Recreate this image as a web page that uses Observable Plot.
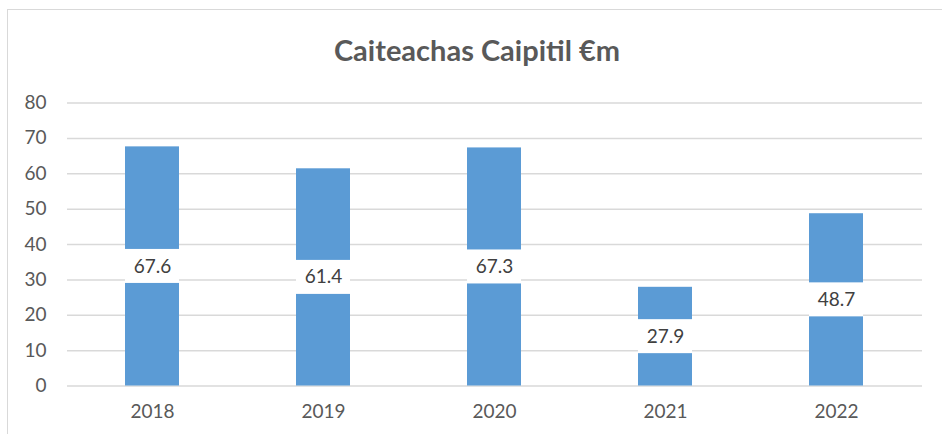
<!DOCTYPE html>
<html>
<head>
<meta charset="utf-8">
<script src="https://cdn.jsdelivr.net/npm/d3@7"></script>
<script src="https://cdn.jsdelivr.net/npm/@observablehq/plot@0.6"></script>
<style>
  html, body { margin: 0; padding: 0; background: #fff; overflow: hidden; }
  #wrap { position: relative; width: 942px; height: 434px; font-family: Lato, "Open Sans", sans-serif; }
  #frame { position: absolute; left: 7px; top: 9px; width: 960px; height: 460px; border: 1.5px solid #d9d9d9; box-sizing: border-box; }
  #title { position: absolute; left: 0; top: 0; width: 942px; height: 80px; text-align: center; line-height: 100px; font-size: 29px; font-weight: bold; color: #595959; padding-left: 12px; box-sizing: border-box; }
  #chart { position: absolute; left: 0; top: 80px; }
</style>
</head>
<body>
<div id="wrap">
  <div id="frame"></div>
  <div id="title">Caiteachas Caipitil €m</div>
  <div id="chart"></div>
</div>
<script>
const years = ["2018", "2019", "2020", "2021", "2022"];
const values = [67.6, 61.4, 67.3, 27.9, 48.7];
const yTicks = [0, 10, 20, 30, 40, 50, 60, 70, 80];

const data = years.map((y, i) => ({year: y, value: values[i]}));

const chart = Plot.plot({
  width: 942,
  height: 354,
  marginTop: 22.5,
  marginBottom: 48.5,
  marginLeft: 67,
  marginRight: 20,
  style: {fontFamily: "Lato, 'Open Sans', sans-serif", fontSize: "19px", color: "#595959", background: "transparent"},
  x: {type: "band", domain: years, paddingInner: 0.684, paddingOuter: 0.342, label: null},
  y: {domain: [0, 80], label: null},
  marks: [
    Plot.ruleY(yTicks, {stroke: "#d9d9d9", strokeWidth: 1.5}),
    Plot.barY(data, {x: "year", y: "value", fill: "#5b9bd5"}),
    Plot.barY(data, {x: "year", y1: d => d.value / 2, y2: d => d.value / 2, fill: "#ffffff", insetTop: -17, insetBottom: -17}),
    Plot.text(data, {x: "year", y: d => d.value / 2, text: d => d.value.toFixed(1), fill: "#404040", fontSize: 19}),
    Plot.axisY(yTicks, {tickSize: 0, tickPadding: 21, fontSize: 19, fill: "#595959", label: null}),
    Plot.axisX(years, {tickSize: 0, tickPadding: 18, fontSize: 19, fill: "#595959", label: null})
  ]
});
document.getElementById("chart").appendChild(chart);
</script>
</body>
</html>
